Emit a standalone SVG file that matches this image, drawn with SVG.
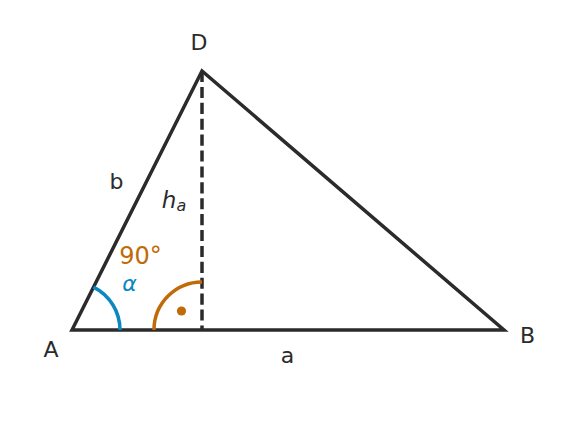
<svg xmlns="http://www.w3.org/2000/svg" width="576" height="438" viewBox="0 0 576 438">
<style>
.edge{fill:none;stroke:#2b2b2b;stroke-width:3.5;stroke-linejoin:miter}
.lbl{font-family:"DejaVu Sans",sans-serif;font-size:22px;fill:#2b2b2b;text-anchor:middle}
.org{fill:#c06a08}
.blu{fill:#0a88c0}
</style>
<rect width="576" height="438" fill="#ffffff"/>
<g id="connectors">
<polygon class="edge" points="72,330 202,71 504,330"/>
<line class="edge" x1="202" y1="71" x2="202" y2="330" stroke-dasharray="11.1 4.8"/>
<path d="M93.5,287.1 A48,48 0 0 1 120,330" fill="none" stroke="#0a88c0" stroke-width="3.5"/>
<path d="M154,330 A48,48 0 0 1 202,282" fill="none" stroke="#c06a08" stroke-width="3.5"/>
<circle cx="181.5" cy="311" r="4.6" fill="#c06a08"/>
</g>
<g id="node-D"><text class="lbl" x="199" y="50">D</text></g>
<g id="node-A"><text class="lbl" x="51" y="357">A</text></g>
<g id="node-B"><text class="lbl" x="527.5" y="343">B</text></g>
<g id="label-a"><text class="lbl" x="287.5" y="363">a</text></g>
<g id="label-b"><text class="lbl" x="116.5" y="189">b</text></g>
<g id="label-h"><text class="lbl" x="174" y="208" style="font-size:23px;font-style:italic">h<tspan style="font-size:16px" dy="3">a</tspan></text></g>
<g id="label-90"><text class="lbl org" x="140.5" y="264" style="font-size:24px">90°</text></g>
<g id="label-alpha"><text class="lbl blu" x="129.5" y="291" style="font-style:italic">α</text></g>
</svg>
